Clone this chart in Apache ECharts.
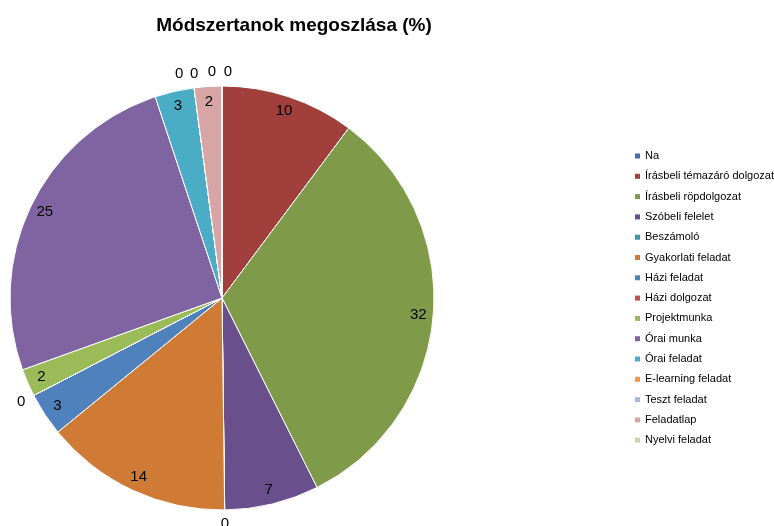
<!DOCTYPE html>
<html>
<head>
<meta charset="utf-8">
<script src="https://cdn.jsdelivr.net/npm/echarts@6/dist/echarts.min.js"></script>
<style>html,body{margin:0;padding:0;background:#fff}#c{width:774px;height:526px}</style>
</head>
<body>
<div id="c"></div>
<script>
const titleText = 'Módszertanok megoszlása (%)';
const categories = ['Na','Írásbeli témazáró dolgozat','Írásbeli röpdolgozat','Szóbeli felelet','Beszámoló','Gyakorlati feladat','Házi feladat','Házi dolgozat','Projektmunka','Órai munka','Órai feladat','E-learning feladat','Teszt feladat','Feladatlap','Nyelvi feladat'];
const values = [0, 10.2, 32.4, 7.2, 0, 14.3, 3.3, 0, 2.1, 25.4, 3.0, 0, 0, 2.1, 0];
const colors = ['#4170A6','#A03F3C','#7F9A48','#69508D','#3D93AB','#CF7B36','#4F81BD','#C0504D','#9BBB59','#8064A2','#4BACC6','#F79646','#A7B9D9','#D8A5A6','#C7D8A8'];
// horizontal nudges for crowded zero labels at the top (Na, Nyelvi, Teszt, E-learning)
const zeroLabelNudge = { 'Na': 6, 'Nyelvi feladat': -10, 'Teszt feladat': 2, 'E-learning feladat': -13 };

const FONT = '"Liberation Sans", Arial, sans-serif';
const chart = echarts.init(document.getElementById('c'));
const center = [222, 298];
const R = 212;

const baseData = categories.map((n, i) => ({ name: n, value: values[i] }));
const insideData = categories.map((n, i) => ({ name: n, value: values[i], label: { show: values[i] > 0 } }));
const zeroData = categories.map((n, i) => ({
  name: n, value: values[i],
  label: { show: values[i] === 0, offset: [zeroLabelNudge[n] || 0, 0] }
}));

chart.setOption({
  animation: false,
  color: colors,
  title: {
    text: titleText, left: 289, top: 11, textAlign: 'center',
    textStyle: { fontFamily: FONT, fontSize: 19, fontWeight: 'bold', color: '#000' }
  },
  legend: {
    orient: 'vertical', left: 630, top: 145,
    icon: 'rect', itemWidth: 5, itemHeight: 5, itemGap: 8.3,
    textStyle: { fontFamily: FONT, fontSize: 11, color: '#000', lineHeight: 12 },
    data: categories.map((n, i) => ({ name: n, itemStyle: { color: colors[i], borderWidth: 0 } }))
  },
  series: [
    {
      type: 'pie', center: center, radius: [0, R], startAngle: 90, clockwise: true,
      avoidLabelOverlap: false, silent: true,
      itemStyle: { borderColor: '#fff', borderWidth: 1 },
      label: { show: false }, labelLine: { show: false },
      data: baseData
    },
    {
      type: 'pie', center: center, radius: [176, R], startAngle: 90, clockwise: true,
      avoidLabelOverlap: false, silent: true,
      itemStyle: { color: 'transparent', borderWidth: 0 },
      label: { position: 'inside', fontFamily: FONT, fontSize: 15, color: '#000',
        formatter: p => String(Math.round(p.value)) },
      labelLine: { show: false },
      data: insideData
    },
    {
      type: 'pie', center: center, radius: [R, R + 22], startAngle: 90, clockwise: true,
      avoidLabelOverlap: false, silent: true,
      itemStyle: { color: 'transparent', borderWidth: 0 },
      label: { position: 'inside', fontFamily: FONT, fontSize: 15, color: '#000',
        formatter: p => String(Math.round(p.value)) },
      labelLine: { show: false },
      data: zeroData
    }
  ]
});
</script>
</body>
</html>
